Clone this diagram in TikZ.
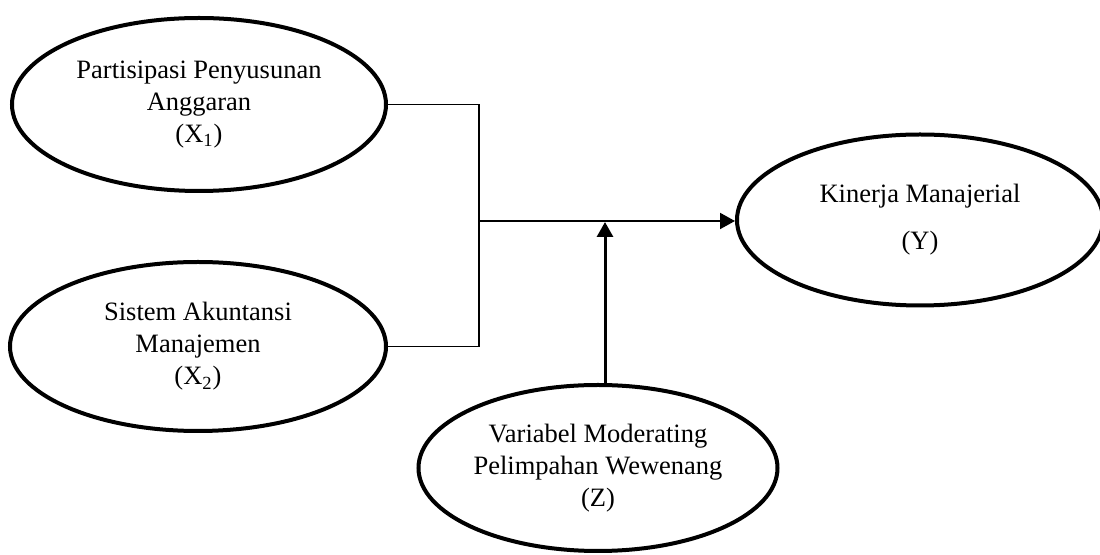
\documentclass[tikz,border=0pt]{standalone}
\usepackage{fontspec}
\setmainfont{Liberation Serif}
\usetikzlibrary{shapes.geometric, arrows.meta}

\begin{document}
\begin{tikzpicture}
  [x=0.5pt, y=-0.5pt,
   var/.style={ellipse, draw, line width=2pt, inner sep=0pt, align=center,
     font=\fontsize{13.25}{16}\selectfont},
   link/.style={line width=0.65pt},
   arr/.style={-{Triangle[length=7.5pt,width=8pt]}}]
  \useasboundingbox (0,0) rectangle (1100,555);
    % variables
    \node[var, minimum width=187pt, minimum height=86.5pt]
      (x1) at (199,104.5) {Partisipasi Penyusunan\\Anggaran\\(X\textsubscript{1})};
    \node[var, minimum width=188pt, minimum height=84.5pt]
      (x2) at (198,346.5) {Sistem Akuntansi\\Manajemen\\(X\textsubscript{2})};
    \node[var, minimum width=183pt, minimum height=85.5pt]
      (y) at (920,220) {Kinerja Manajerial\\[7.5pt](Y)};
    \node[var, minimum width=179.5pt, minimum height=83pt]
      (z) at (598,468) {Variabel Moderating\\Pelimpahan Wewenang\\(Z)};
    \coordinate (jn) at (479,221);
    \coordinate (mid) at (605,222);
    % connectors
    \draw[link] (x1.east) -| (jn) |- (x2.east);
    \draw[line width=1pt, arr] (jn) -- (jn -| y.west);
    \draw[line width=1.5pt, arr] (z.north -| mid) -- (mid);
  \end{tikzpicture}
\end{document}
